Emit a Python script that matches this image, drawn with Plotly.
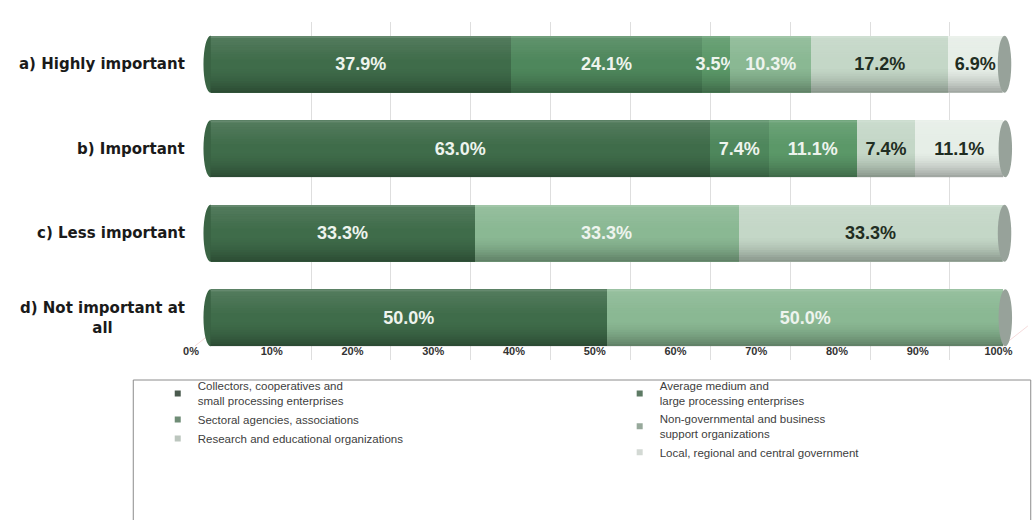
import plotly.graph_objects as go

# ---- data -----------------------------------------------------------------
categories = [
    "a) Highly important",
    "b) Important",
    "c) Less important",
    "d) Not important at<br>all",
]
series_names = [
    "Collectors, cooperatives and<br>small processing enterprises",
    "Average medium and<br>large processing enterprises",
    "Sectoral agencies, associations",
    "Non-governmental and business<br>support organizations",
    "Research and educational organizations",
    "Local, regional and central government",
]
collectors = [37.9, 63.0, 33.3, 50.0]
average_medium_large = [24.1, 7.4, None, None]
sectoral_agencies = [3.5, 11.1, None, None]
non_governmental = [10.3, None, 33.3, 50.0]
research_education = [17.2, 7.4, 33.3, None]
government = [6.9, 11.1, None, None]
tick_values = [0, 10, 20, 30, 40, 50, 60, 70, 80, 90, 100]
tick_labels = ["0%", "10%", "20%", "30%", "40%", "50%", "60%", "70%", "80%", "90%", "100%"]

series_values = [collectors, average_medium_large, sectoral_agencies,
                 non_governmental, research_education, government]

# ---- styling --------------------------------------------------------------
W, H = 1033, 520
colors = ["#3f6c4a", "#4e875c", "#5b9868", "#8ab893", "#c4d7c7", "#e6eee7"]
legend_colors = ["#4a5a4e", "#5d7a64", "#6f8c76", "#97a99b", "#bcc6be", "#d3d9d4"]
text_colors = ["#eef4ee", "#eef4ee", "#eef4ee", "#eef4ee", "#1f2d22", "#1f2d22"]
legend_ids = ["legend", "legend2", "legend", "legend2", "legend", "legend2"]
BAR_W = 0.675


def fx(p):
    return p / W


def fy(p):
    return 1 - p / H


# horizontal scale of the bars: 0 % at 207 px, 8.1 px per percent
X0_PX, PX_PER = 207.0, 8.1
x_lo, x_hi = -2.2, 101.9
# floor scale (tick labels): 0 % at 187 px, 8.25 px per percent
FLOOR_X0, FLOOR_PER = 187.0, 8.25

fig = go.Figure()

# legend entries (small square swatches) on the back-wall grid subplot
for name, col, lg in zip(series_names, legend_colors, legend_ids):
    fig.add_trace(go.Scatter(
        x=[None], y=[None], mode="markers", name=name, legend=lg,
        marker=dict(symbol="square", size=6, color=col),
        xaxis="x", yaxis="y", hoverinfo="skip",
    ))

# stacked cylinders
for name, vals, col, tcol in zip(series_names, series_values, colors, text_colors):
    fig.add_trace(go.Bar(
        x=vals, y=categories, orientation="h", name=name,
        marker=dict(color=col, line=dict(width=0)),
        texttemplate="%{x:.1f}%", textposition="inside", textangle=0,
        insidetextanchor="middle", constraintext="none",
        textfont=dict(family="Liberation Sans", size=18, color=tcol, weight="bold"),
        xaxis="x2", yaxis="y", showlegend=False, hoverinfo="skip",
    ))

# carrier for the floor tick labels
fig.add_trace(go.Scatter(x=[None], y=[None], xaxis="x3", yaxis="y",
                         showlegend=False, hoverinfo="skip"))

shapes = []

# faint perspective lines on the chart floor
for v in tick_values:
    px = FLOOR_X0 + v * FLOOR_PER
    shapes.append(dict(type="line", xref="paper", yref="paper", layer="below",
                       x0=fx(px + 4), y0=fy(346), x1=fx(px + 30), y1=fy(326),
                       line=dict(color="rgba(225,150,150,0.35)", width=1)))

# cylinder shading: soft sheen at the top, darkening towards the bottom
N_BANDS = 24
bands = []
for k in range(N_BANDS):
    t = (k + 0.5) / N_BANDS
    if t < 0.06:
        c = "rgba(255,255,255,0.20)"
    elif t < 0.45:
        c = "rgba(255,255,255,%.3f)" % (0.10 * (1 - (t - 0.06) / 0.39))
    elif t < 0.55:
        c = None
    else:
        c = "rgba(0,0,0,%.3f)" % (0.32 * ((t - 0.55) / 0.45) ** 1.6)
    if c:
        bands.append((k / N_BANDS, (k + 1) / N_BANDS, c))

for i, cat in enumerate(categories):
    total = sum(v[i] for v in series_values if v[i] is not None)
    top = i - BAR_W / 2
    # rounded left end
    shapes.append(dict(type="circle", xref="x2", yref="y", layer="below",
                       x0=-0.9, x1=0.9, y0=top, y1=top + BAR_W,
                       fillcolor="#3a6444", line=dict(width=0)))
    for a, b, c in bands:
        shapes.append(dict(type="rect", xref="x2", yref="y", layer="above",
                           x0=0, x1=total, y0=top + a * BAR_W, y1=top + b * BAR_W,
                           fillcolor=c, line=dict(width=0)))
    # grey end cap
    shapes.append(dict(type="circle", xref="x2", yref="y", layer="above",
                       x0=total - 0.6, x1=total + 1.1, y0=top, y1=top + BAR_W,
                       fillcolor="#97a29a", line=dict(width=0)))

# legend frame
shapes.append(dict(type="rect", xref="paper", yref="paper",
                   x0=fx(128), x1=fx(1045), y0=fy(380), y1=fy(540),
                   line=dict(color="#8c8c8c", width=1), fillcolor="rgba(0,0,0,0)"))

annotations = [
    dict(text=cat, xref="paper", yref="y", x=fx(183), y=cat,
         xanchor="right", yanchor="middle", align="center", showarrow=False,
         font=dict(family="DejaVu Sans", size=15, color="#1a1a1a", weight="bold"))
    for cat in categories
]

legend_style = dict(orientation="v", xanchor="left", yanchor="top",
                    traceorder="normal", tracegroupgap=0,
                    font=dict(family="Liberation Sans", size=11.5, color="#404040"),
                    bgcolor="rgba(0,0,0,0)", borderwidth=0)

fig.update_layout(
    width=W, height=H,
    margin=dict(l=0, r=0, t=0, b=0),
    paper_bgcolor="white", plot_bgcolor="rgba(0,0,0,0)",
    barmode="stack", bargap=1 - BAR_W,
    shapes=shapes, annotations=annotations,
    # back-wall grid
    xaxis=dict(domain=[fx(228), 1.0], range=[0, (W - 228) / 8.16], dtick=10,
               showgrid=True, gridcolor="#dedede", gridwidth=1,
               showticklabels=False, zeroline=False, showline=False, ticks="",
               anchor="y", fixedrange=True),
    # bar scale
    xaxis2=dict(domain=[fx(X0_PX + x_lo * PX_PER), fx(X0_PX + x_hi * PX_PER)],
                range=[x_lo, x_hi], showgrid=False, showticklabels=False,
                zeroline=False, showline=False, ticks="", anchor="y", fixedrange=True),
    # floor tick labels
    xaxis3=dict(domain=[fx(FLOOR_X0), fx(FLOOR_X0 + 100 * FLOOR_PER)], range=[0, 100],
                tickvals=tick_values, ticktext=tick_labels,
                tickfont=dict(family="Liberation Sans", size=11, color="#333333", weight="bold"),
                showgrid=False, zeroline=False, showline=False, ticks="",
                anchor="free", position=fy(343), fixedrange=True),
    yaxis=dict(type="category", categoryorder="array", categoryarray=categories,
               domain=[fy(360), fy(22)], range=[3.5, -0.5],
               showticklabels=False, showgrid=False, zeroline=False, showline=False,
               ticks="", fixedrange=True),
    legend=dict(x=fx(153), y=fy(372), **legend_style),
    legend2=dict(x=fx(625), y=fy(372), **legend_style),
    showlegend=True,
)

fig.write_html("out.html")
